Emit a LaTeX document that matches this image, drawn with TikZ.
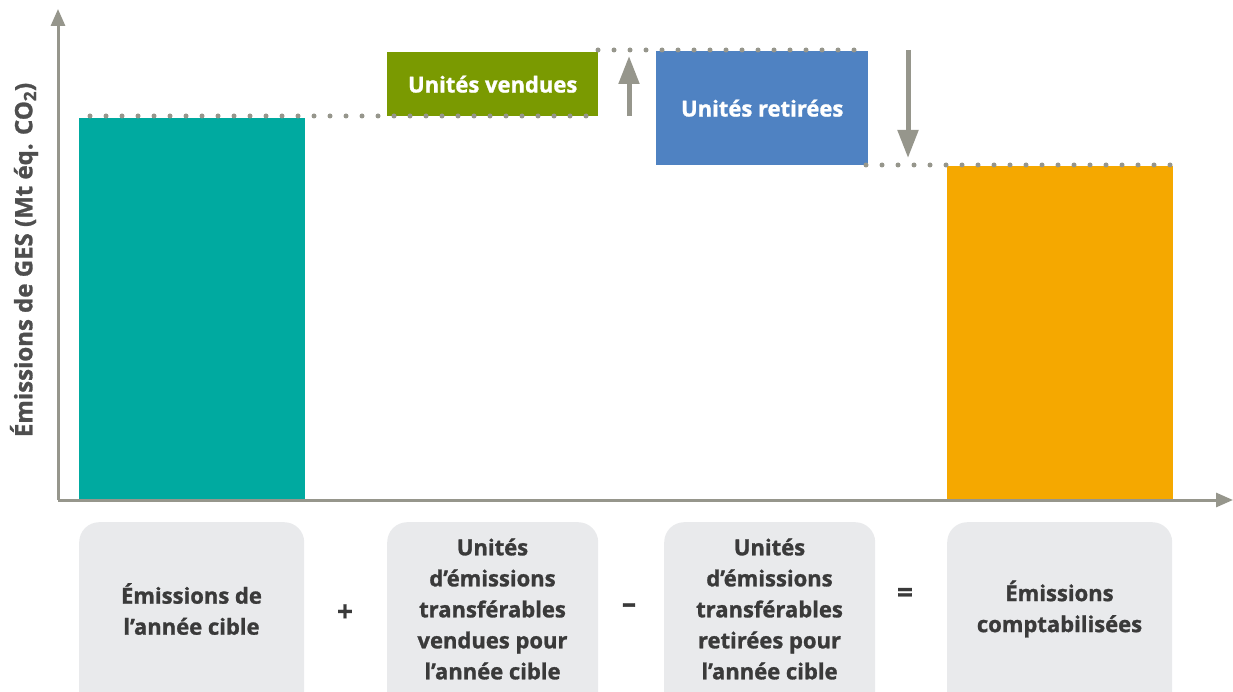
\documentclass[tikz,border=0pt]{standalone}
\usepackage{fontspec}
\setmainfont{Open Sans}[BoldFeatures={FakeBold=1.2}]
\usetikzlibrary{arrows.meta}
\definecolor{axisgray}{RGB}{150,150,140}
\definecolor{teal}{RGB}{0,170,160}
\definecolor{vgreen}{RGB}{122,154,1}
\definecolor{rblue}{RGB}{79,130,194}
\definecolor{orangebar}{RGB}{245,168,0}
\definecolor{boxgray}{RGB}{233,234,236}
\definecolor{txtdark}{RGB}{58,58,58}
\begin{document}
\begin{tikzpicture}[x=1pt,y=-1pt,
  axis/.style={draw=axisgray,line width=3pt,-{Triangle[length=17pt,width=14pt]}},
  dotline/.style={draw=axisgray,line width=5pt,line cap=round,dash pattern=on 0pt off 16pt},
  bigarrow/.style={draw=axisgray,line width=5pt,-{Triangle[length=28pt,width=20pt]}},
  bar/.style={draw=none,inner sep=0pt,anchor=north west},
  labelbox/.style={fill=boxgray,rounded corners=20pt,inner sep=0pt,anchor=north west},
  boxlabel/.style={text=txtdark,font=\bfseries\fontsize{22}{31}\selectfont,align=center},
  op/.style={text=txtdark,font=\bfseries\fontsize{28}{30}\selectfont},
  boxtext/.style={text=white,font=\bfseries\fontsize{22}{28}\selectfont}
]
\useasboundingbox (0,0) rectangle (1233,692);
% bars
\node[bar,fill=teal,minimum width=226pt,minimum height=382pt] (b1) at (79,118) {};
\node[bar,fill=orangebar,minimum width=226pt,minimum height=334pt] (b4) at (947,166) {};
\node[bar,fill=vgreen,minimum width=211pt,minimum height=64pt] (b2) at (387,52) {};
\node[bar,fill=rblue,minimum width=212pt,minimum height=114pt] (b3) at (656,51) {};
\node[boxtext] (t2) at (b2.center) {Unités vendues};
\node[boxtext] (t3) at (b3.center) {Unités retirées};
% dotted lines
\coordinate (d1s) at (90,116); \coordinate (d1e) at (598,116);
\coordinate (d2s) at (598,50); \coordinate (d2e) at (868,50);
\coordinate (d3s) at (866,165); \coordinate (d3e) at (1172,165);
\draw[dotline] (d1s) -- (d1e);
\draw[dotline] (d2s) -- (d2e);
\draw[dotline] (d3s) -- (d3e);
% arrows
\coordinate (u1) at (629,116); \coordinate (u2) at (629,56);
\coordinate (w1) at (908,50); \coordinate (w2) at (908,158);
\draw[bigarrow] (u1) -- (u2);
\draw[bigarrow] (w1) -- (w2);
% axes
\coordinate (o) at (58,500); \coordinate (ytop) at (58,9); \coordinate (xend) at (1233,500);
\draw[axis] (o) -- (ytop);
\draw[axis] (o) -- (xend);
\node[rotate=90,text=txtdark!90,font=\bfseries\fontsize{24}{26}\selectfont] (ylab) at (24,260) {Émissions de GES (Mt éq. CO\textsubscript{2})};
% label boxes
\node[labelbox,minimum width=225pt,minimum height=190pt] (l1) at (79,522) {};
\node[labelbox,minimum width=211pt,minimum height=190pt] (l2) at (387,522) {};
\node[labelbox,minimum width=211pt,minimum height=190pt] (l3) at (664,522) {};
\node[labelbox,minimum width=225pt,minimum height=190pt] (l4) at (947,522) {};
\node[boxlabel] (lt1) at (191.5,609) {Émissions de\\l’année cible};
\node[boxlabel] (lt2) at (492.5,609) {Unités\\d’émissions\\transférables\\vendues pour\\l’année cible};
\node[boxlabel] (lt3) at (769.5,609) {Unités\\d’émissions\\transférables\\retirées pour\\l’année cible};
\node[boxlabel] (lt4) at (1059.5,609) {Émissions\\comptabilisées};
% operators
\node[op] (plus) at (345,613) {+};
\node[op] (minus) at (629,608) {–};
\node[op] (eq) at (905,595) {=};
\end{tikzpicture}
\end{document}
